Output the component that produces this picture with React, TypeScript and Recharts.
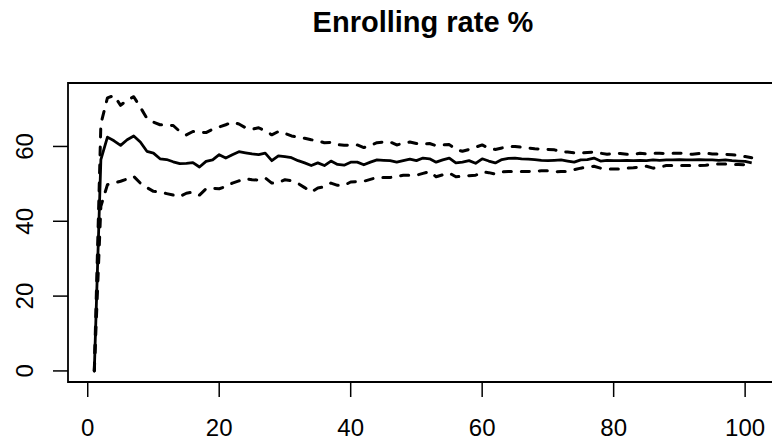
import React from "react";
import { LineChart, Line, XAxis, YAxis, ReferenceArea } from "recharts";

const xs = [
  1, 2, 3, 4, 5, 6, 7, 8, 9, 10, 11, 12, 13, 14, 15, 16, 17, 18, 19, 20,
  21, 22, 23, 24, 25, 26, 27, 28, 29, 30, 31, 32, 33, 34, 35, 36, 37, 38, 39, 40,
  41, 42, 43, 44, 45, 46, 47, 48, 49, 50, 51, 52, 53, 54, 55, 56, 57, 58, 59, 60,
  61, 62, 63, 64, 65, 66, 67, 68, 69, 70, 71, 72, 73, 74, 75, 76, 77, 78, 79, 80,
  81, 82, 83, 84, 85, 86, 87, 88, 89, 90, 91, 92, 93, 94, 95, 96, 97, 98, 99, 100, 101,
];

const meanRate = [
  0, 56.5, 62.5, 61.5, 60.3, 61.8, 62.8, 61.2, 58.7, 58.2,
  56.7, 56.5, 55.9, 55.4, 55.5, 55.7, 54.5, 56.0, 56.4, 57.8,
  56.9, 57.8, 58.6, 58.3, 58.0, 57.8, 58.2, 56.2, 57.5, 57.3,
  57.0, 56.2, 55.6, 54.9, 55.6, 54.9, 56.1, 55.2, 55.0, 55.8,
  55.8, 55.1, 55.8, 56.4, 56.3, 56.2, 55.8, 56.2, 56.6, 56.2,
  56.9, 56.7, 55.8, 56.4, 56.9, 55.6, 55.8, 56.2, 55.5, 56.7,
  56.1, 55.6, 56.5, 56.8, 56.9, 56.7, 56.6, 56.5, 56.3, 56.2,
  56.3, 56.4, 56.1, 55.8, 56.4, 56.5, 56.9, 56.1, 56.3, 56.2,
  56.2, 56.3, 56.2, 56.3, 56.2, 56.4, 56.3, 56.4, 56.4, 56.5,
  56.4, 56.4, 56.5, 56.4, 56.4, 56.3, 56.4, 56.2, 56.1, 56.0, 55.6,
];

const upperRate = [
  0, 66.0, 73.0, 73.6, 71.0, 72.4, 73.3, 70.5, 67.5, 66.5,
  65.8, 65.7, 65.6, 64.0, 63.1, 64.0, 63.8, 63.7, 64.6, 65.2,
  65.8, 66.5, 66.0, 65.0, 64.6, 65.0, 64.2, 63.1, 64.0, 63.5,
  62.8, 62.5, 62.2, 61.8, 61.5, 61.0, 61.1, 60.5, 60.3, 60.4,
  60.4, 59.7, 60.3, 61.0, 61.2, 61.2, 60.4, 60.8, 61.2, 60.8,
  60.6, 60.8, 60.2, 60.4, 60.5, 59.2, 58.7, 59.2, 59.8, 60.4,
  59.5, 59.2, 59.6, 59.9, 60.0, 59.8, 59.6, 59.4, 59.3, 59.2,
  59.1, 58.6, 58.5, 58.3, 58.2, 58.4, 58.5, 58.2, 57.9, 58.2,
  58.1, 57.9, 57.9, 58.2, 58.0, 58.2, 58.2, 58.1, 58.2, 58.2,
  58.1, 57.9, 58.1, 58.2, 58.0, 58.0, 57.9, 57.8, 57.6, 57.3, 57.0,
];

const lowerRate = [
  0, 44.0, 49.8, 50.2, 50.7, 51.3, 52.0, 50.2, 49.0, 48.0,
  47.8, 47.4, 47.0, 46.6, 47.5, 47.8, 47.0, 48.7, 48.8, 48.7,
  49.3, 50.2, 50.8, 51.4, 51.1, 51.0, 51.6, 50.2, 50.4, 51.1,
  50.8, 50.1, 49.0, 47.8, 48.9, 49.2, 50.2, 49.6, 49.6, 50.5,
  50.6, 50.7, 51.2, 51.7, 51.7, 51.7, 52.0, 52.3, 52.3, 52.3,
  52.8, 53.3, 51.9, 52.4, 52.9, 51.9, 52.0, 52.2, 52.3, 53.2,
  53.0, 52.6, 53.2, 53.3, 53.3, 53.3, 53.3, 53.4, 53.5, 53.5,
  53.2, 53.3, 53.3, 53.8, 54.2, 54.5, 54.7, 54.2, 54.0, 54.0,
  54.0, 54.2, 54.3, 54.5, 54.7, 54.2, 54.5, 54.9, 54.9, 54.9,
  54.9, 54.9, 54.9, 55.0, 55.2, 55.3, 55.3, 55.2, 55.2, 55.1, 55.0,
];

const xTicks = [0, 20, 40, 60, 80, 100];
const yTicks = [0, 20, 40, 60];
const titleText = "Enrolling rate %";

const data = xs.map((x, i) => ({
  x,
  mean: meanRate[i],
  upper: upperRate[i],
  lower: lowerRate[i],
}));

const FONT = "'Liberation Sans', Arial, Helvetica, sans-serif";
const X_DOMAIN: [number, number] = [-3, 105];
const Y_DOMAIN: [number, number] = [-2.96, 76.96];

const XTick = (props: any) => {
  const { x, y, payload } = props;
  return (
    <text x={x} y={y} dy="0.71em" textAnchor="middle" fontFamily={FONT} fontSize={24} fill="#000">
      {payload.value}
    </text>
  );
};

const YTick = (props: any) => {
  const { x, y, payload } = props;
  return (
    <text
      x={x}
      y={y}
      textAnchor="middle"
      transform={`rotate(-90, ${x}, ${y})`}
      fontFamily={FONT}
      fontSize={24}
      fill="#000"
    >
      {payload.value}
    </text>
  );
};

export default function App() {
  return (
    <div
      style={{
        position: "absolute",
        left: 0,
        top: 0,
        width: 772,
        height: 445,
        overflow: "hidden",
        background: "#fff",
      }}
    >
      <LineChart
        width={790}
        height={445}
        data={data}
        margin={{ top: 83, right: 12, bottom: 0, left: 0 }}
      >
        <XAxis
          type="number"
          dataKey="x"
          domain={X_DOMAIN}
          ticks={xTicks}
          allowDataOverflow
          height={63}
          axisLine={false}
          tickLine={{ stroke: "#000", strokeWidth: 1.5 }}
          tickSize={15}
          tickMargin={22}
          tick={<XTick />}
          interval={0}
        />
        <YAxis
          type="number"
          domain={Y_DOMAIN}
          ticks={yTicks}
          allowDataOverflow
          width={68}
          axisLine={false}
          tickLine={{ stroke: "#000", strokeWidth: 1.5 }}
          tickSize={15}
          tickMargin={20}
          tick={<YTick />}
          interval={0}
        />
        <ReferenceArea
          x1={X_DOMAIN[0]}
          x2={X_DOMAIN[1]}
          y1={Y_DOMAIN[0]}
          y2={Y_DOMAIN[1]}
          fill="none"
          fillOpacity={0}
          stroke="#000"
          strokeWidth={1.8}
          ifOverflow="visible"
        />
        <Line
          type="linear"
          dataKey="upper"
          stroke="#000"
          strokeWidth={3}
          strokeDasharray="8 10"
          strokeLinecap="round"
          strokeLinejoin="round"
          dot={false}
          activeDot={false}
          isAnimationActive={false}
        />
        <Line
          type="linear"
          dataKey="lower"
          stroke="#000"
          strokeWidth={3}
          strokeDasharray="8 10"
          strokeLinecap="round"
          strokeLinejoin="round"
          dot={false}
          activeDot={false}
          isAnimationActive={false}
        />
        <Line
          type="linear"
          dataKey="mean"
          stroke="#000"
          strokeWidth={2.8}
          strokeLinejoin="round"
          dot={false}
          activeDot={false}
          isAnimationActive={false}
        />
      </LineChart>
      <svg
        width={772}
        height={445}
        style={{ position: "absolute", left: 0, top: 0, pointerEvents: "none" }}
      >
        <text
          x={423}
          y={32}
          textAnchor="middle"
          fontFamily={FONT}
          fontSize={29}
          fontWeight="bold"
          fill="#000"
        >
          {titleText}
        </text>
      </svg>
    </div>
  );
}
